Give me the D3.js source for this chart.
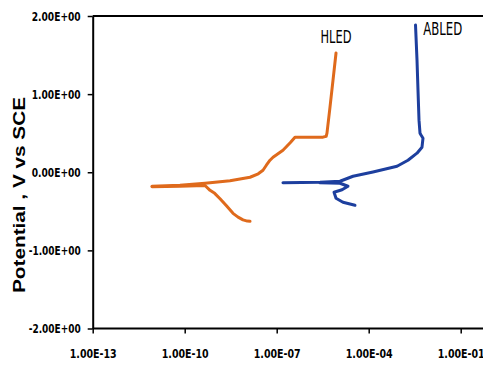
<!DOCTYPE html>
<html>
<head>
<meta charset="utf-8">
<script src="https://cdn.jsdelivr.net/npm/d3@7"></script>
<style>
    body { margin: 0; background: #fff; }
    svg { display: block; }
</style>
</head>
<body>
<svg id="chart" width="483" height="365"></svg>
<script>
// Tafel polarisation curves: current density (A) against potential (V vs SCE)
const xTicks = [1e-13, 1e-10, 1e-7, 1e-4, 1e-1];
const yTicks = [-2, -1, 0, 1, 2];

const hledCathodicI = [1.35e-8, 1.1e-8, 7.96e-9, 5.5e-9, 3.76e-9, 2.3e-9, 1.42e-9, 9.5e-10, 6.7e-10, 4.6e-10, 7.0e-11, 8.6e-12];
const hledCathodicE = [-0.628, -0.625, -0.61, -0.575, -0.526, -0.43, -0.34, -0.27, -0.231, -0.17, -0.178, -0.186];

const hledAnodicI = [8.6e-12, 7.0e-11, 4.6e-10, 3.0e-9, 1.35e-8, 2.5e-8, 3.57e-8, 4.6e-8, 6.05e-8, 7.6e-8,
    1.6e-7, 2.8e-7, 3.95e-7, 3.24e-6, 4.1e-6, 4.36e-6, 5.47e-6, 6.86e-6, 8.6e-6];
const hledAnodicE = [-0.179, -0.167, -0.141, -0.109, -0.064, -0.02, 0.026, 0.09, 0.154, 0.192,
    0.282, 0.38, 0.449, 0.449, 0.46, 0.5, 0.833, 1.179, 1.526];

const abledAnodicI = [1.6e-7, 2.58e-6, 1.16e-5, 3.08e-5, 1.38e-4, 8.4e-4, 1.91e-3, 3.76e-3,
    5.47e-3, 5.9e-3, 5.2e-3, 4.71e-3, 4.37e-3, 4.05e-3, 3.76e-3, 3.36e-3];
const abledAnodicE = [-0.135, -0.128, -0.115, -0.051, 0.004, 0.077, 0.154, 0.244,
    0.321, 0.436, 0.47, 0.5, 0.667, 1.051, 1.436, 1.885];

const abledCathodicI = [2.58e-6, 1.16e-5, 2.11e-5, 1.35e-5, 7.4e-6, 8.6e-6, 1.45e-5, 3.57e-5];
const abledCathodicE = [-0.135, -0.141, -0.179, -0.224, -0.256, -0.333, -0.385, -0.423];

const seriesLabels = ["HLED", "ABLED"];
const seriesColors = ["#df6a1c", "#1d3f9e"];

const width = 483, height = 365;
const svg = d3.select("#chart");

const x = d3.scaleLog().domain([1e-13, 1e-1]).range([92.7, 460.7]);
const y = d3.scaleLinear().domain([-2, 2]).range([328.5, 16]);

const fmtSci = d => d.toExponential(2).toUpperCase().replace(/E([+-])(\d)$/, "E$10$2");

const tickFont = "'Liberation Sans Narrow', 'Arial Narrow', 'DejaVu Sans Condensed', sans-serif";

// top frame line
svg.append("line")
    .attr("x1", x(1e-13)).attr("x2", width)
    .attr("y1", y(2)).attr("y2", y(2))
    .attr("stroke", "#000").attr("stroke-width", 2);

// bottom axis
const xAxis = svg.append("g")
    .attr("transform", `translate(0,${y(-2)})`)
    .call(d3.axisBottom(x).tickValues(xTicks).tickFormat(fmtSci).tickSize(5).tickSizeOuter(0));
xAxis.select(".domain").remove();
xAxis.append("line")
    .attr("x1", x(1e-13)).attr("x2", width)
    .attr("stroke", "#000").attr("stroke-width", 2);
xAxis.selectAll(".tick line").attr("stroke-width", 1.5);
xAxis.selectAll(".tick text")
    .attr("y", 20)
    .attr("textLength", 47)
    .attr("lengthAdjust", "spacingAndGlyphs")
    .style("font-family", tickFont)
    .style("font-weight", "bold")
    .style("font-size", "13px")
    .attr("fill", "#000");

// left axis
const yAxis = svg.append("g")
    .attr("transform", `translate(${x(1e-13)},0)`)
    .call(d3.axisLeft(y).tickValues(yTicks).tickFormat(fmtSci).tickSize(5).tickSizeOuter(0));
yAxis.select(".domain").attr("stroke-width", 2);
yAxis.selectAll(".tick line").attr("stroke-width", 1.5);
yAxis.selectAll(".tick text")
    .attr("x", -12)
    .attr("textLength", d => d < 0 ? 52 : 49)
    .attr("lengthAdjust", "spacingAndGlyphs")
    .style("font-family", tickFont)
    .style("font-weight", "bold")
    .style("font-size", "13px")
    .attr("fill", "#000");

// y title
svg.append("text")
    .attr("transform", "translate(25,195) rotate(-90)")
    .attr("text-anchor", "middle")
    .attr("textLength", 196)
    .attr("lengthAdjust", "spacingAndGlyphs")
    .style("font-family", "'Liberation Sans', Arial, sans-serif")
    .style("font-weight", "bold")
    .style("font-size", "16px")
    .text("Potential , V vs SCE");

// curves
const line = d3.line()
    .x(d => x(d[0]))
    .y(d => y(d[1]));

const curves = [
    {i: hledCathodicI, e: hledCathodicE, c: 0},
    {i: hledAnodicI, e: hledAnodicE, c: 0},
    {i: abledCathodicI, e: abledCathodicE, c: 1},
    {i: abledAnodicI, e: abledAnodicE, c: 1}
];

svg.append("g")
    .selectAll("path")
    .data(curves)
    .join("path")
    .attr("d", d => line(d3.zip(d.i, d.e)))
    .attr("fill", "none")
    .attr("stroke", d => seriesColors[d.c])
    .attr("stroke-width", 3)
    .attr("stroke-linecap", "round")
    .attr("stroke-linejoin", "round");

// series labels near the top of each curve
const labelPos = [
    {i: 8.6e-6, e: 1.65, len: 31},
    {i: 2.6e-2, e: 1.76, len: 39}
];
svg.append("g")
    .selectAll("text")
    .data(seriesLabels)
    .join("text")
    .attr("x", (d, k) => x(labelPos[k].i))
    .attr("y", (d, k) => y(labelPos[k].e))
    .attr("text-anchor", "middle")
    .attr("textLength", (d, k) => labelPos[k].len)
    .attr("lengthAdjust", "spacingAndGlyphs")
    .style("font-family", tickFont)
    .style("font-size", "17px")
    .text(d => d);
</script>
</body>
</html>
